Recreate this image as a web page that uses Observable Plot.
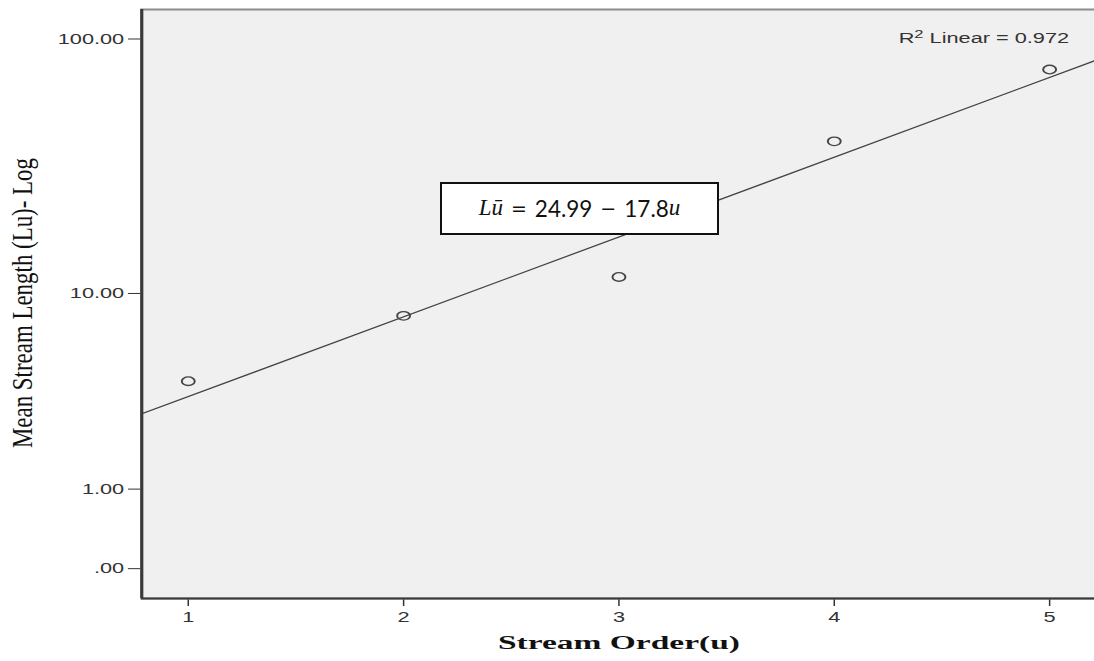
<!DOCTYPE html>
<html><head><meta charset="utf-8">
<script src="https://cdn.jsdelivr.net/npm/d3@7"></script>
<script src="https://cdn.jsdelivr.net/npm/@observablehq/plot@0.6"></script>
<style>
html,body{margin:0;padding:0;background:#fff;}
#wrap{position:relative;width:1094px;height:661px;overflow:hidden;}
#eq{position:absolute;box-sizing:border-box;background:#fff;border:2px solid #111;display:flex;align-items:center;justify-content:center;font-family:Lato,'Open Sans',sans-serif;font-size:22.5px;color:#111;white-space:nowrap;}
#eq .m{font-family:'Liberation Serif',serif;font-style:italic;font-size:23px;}
#eq .o{font-family:'DejaVu Sans',sans-serif;font-size:19px;}
#eq .s{display:inline-block;width:8px;}
</style></head><body><div id="wrap"></div>
<script>
// ---- data ----
const streamOrder = [1, 2, 3, 4, 5];
const meanLength = [4.12, 8.05, 11.7, 40.4, 76.4];
const yTicks = [0, 1, 10, 100];
const xTicks = [1, 2, 3, 4, 5];
const rSquaredLabel = ["R", "2", " Linear = 0.972"];
const yLabel = "Mean Stream Length (Lu)- Log";
const xLabel = "Stream Order(u)";
const eqVar = "Lū", eqConst = "24.99", eqCoef = "17.8", eqX = "u";
const equationAnchor = {u: 2.82, v: 22};

// ---- layout ----
const SX = 1.5;               // the original figure is stretched horizontally
const screenW = 1095.4, H = 661;
const W = screenW / SX;
const xDomain = [0.784, 5.216];
const yDomain = [-0.297, 129.6];

// regression in the axis' (safe-log) space
const T = v => Math.sign(v) * Math.log1p(Math.abs(v));
const Ti = t => Math.sign(t) * Math.expm1(Math.abs(t));
const mx = d3.mean(streamOrder), my = d3.mean(meanLength, T);
const slope = d3.sum(streamOrder, (u, i) => (u - mx) * (T(meanLength[i]) - my)) / d3.sum(streamOrder, u => (u - mx) ** 2);
const intercept = my - slope * mx;
const fit = xDomain.map(u => ({u, v: Ti(intercept + slope * u)}));
const points = streamOrder.map((u, i) => ({u, v: meanLength[i]}));
const rText = rSquaredLabel.join("");

const chart = Plot.plot({
  width: W, height: H,
  marginLeft: 94, marginRight: 0, marginTop: 9, marginBottom: 63,
  style: {fontFamily: "'Liberation Sans', Arial, sans-serif", fontSize: "14.5px", color: "#333", background: "transparent", overflow: "visible"},
  x: {domain: xDomain, ticks: xTicks, tickFormat: d3.format("d"), tickSize: 8, tickPadding: 5, label: null},
  y: {type: "symlog", constant: 1, domain: yDomain, ticks: yTicks,
      tickFormat: v => v === 0 ? ".00" : d3.format(".2f")(v), tickSize: 8.7, tickPadding: 3, label: null},
  marks: [
    Plot.frame({fill: "#f0f0f0", stroke: "#8c8c8c", strokeWidth: 2}),
    Plot.line(fit, {x: "u", y: "v", stroke: "#444", strokeWidth: 1.2, clip: true}),
    Plot.dot(points, {x: "u", y: "v", r: 4.3, stroke: "#444", strokeWidth: 1.3, fill: "none"}),
    Plot.ruleX([xDomain[0]], {stroke: "#3a3a3a", strokeWidth: 2}),
    Plot.ruleY([yDomain[0]], {stroke: "#3a3a3a", strokeWidth: 2.2}),
    Plot.text([rText], {text: d => d, frameAnchor: "top-right", dx: -18, dy: 23, textAnchor: "end", fontSize: 14.5, fill: "#333"}),
    Plot.text([yLabel], {text: d => d, frameAnchor: "left", rotate: -90, dx: -79, dy: 144, textAnchor: "start", fontSize: 19, fontFamily: "'Liberation Serif', serif", fill: "#111"}),
    Plot.text([xLabel], {text: d => d, frameAnchor: "bottom", dy: 50, fontSize: 19, fontWeight: "bold", fontFamily: "'Liberation Serif', serif", fill: "#111"})
  ]
});

chart.setAttribute("width", screenW);
chart.setAttribute("height", H);
chart.setAttribute("viewBox", `0 0 ${W} ${H}`);
chart.setAttribute("preserveAspectRatio", "none");
chart.style.maxWidth = "none";
chart.style.width = screenW + "px";
chart.style.height = H + "px";
chart.style.display = "block";

d3.select(chart).selectAll("text").each(function() {
  const t = this.textContent;
  if (t === yLabel) { this.setAttribute("textLength", 290); this.setAttribute("lengthAdjust", "spacingAndGlyphs"); }
  if (t === xLabel) { this.setAttribute("textLength", 242 / SX); this.setAttribute("lengthAdjust", "spacingAndGlyphs"); }
  if (t === rText) {
    const el = d3.select(this);
    el.text(null);
    el.append("tspan").text(rSquaredLabel[0]);
    el.append("tspan").attr("font-size", 11).attr("dy", -5).text(rSquaredLabel[1]);
    el.append("tspan").attr("dy", 5).text(rSquaredLabel[2]);
  }
});

const wrap = document.getElementById("wrap");
wrap.appendChild(chart);

// equation box (an unstretched overlay, placed through the chart's scales)
const bw = 279, bh = 53;
const cx = chart.scale("x").apply(equationAnchor.u) * SX;
const cy = chart.scale("y").apply(equationAnchor.v);
const eq = document.createElement("div");
eq.id = "eq";
eq.style.left = (cx - bw / 2) + "px";
eq.style.top = (cy - bh / 2) + "px";
eq.style.width = bw + "px";
eq.style.height = bh + "px";
eq.innerHTML = `<span class="m">${eqVar}</span><span class="s"></span><span class="o">=</span><span class="s"></span>${eqConst}<span class="s"></span><span class="o">−</span><span class="s"></span>${eqCoef}<span class="m">${eqX}</span>`;
wrap.appendChild(eq);
</script>
</body></html>
